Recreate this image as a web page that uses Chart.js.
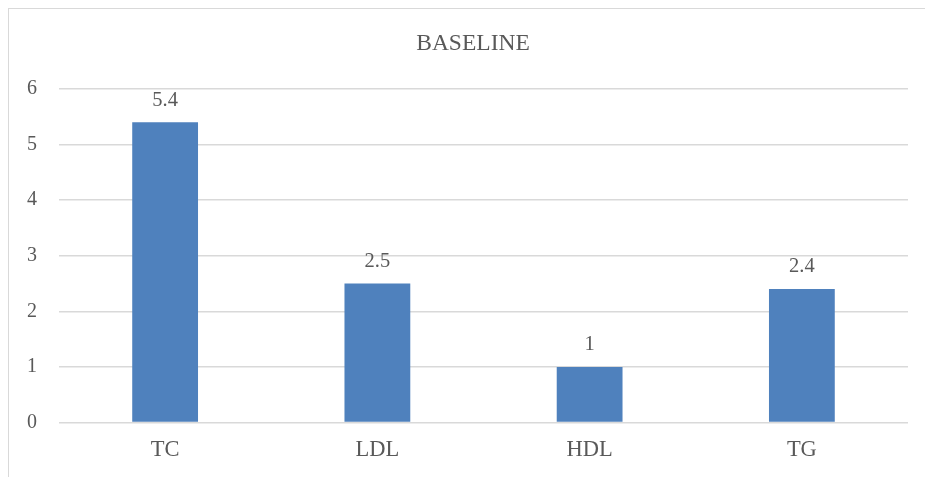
<!DOCTYPE html>
<html>
<head>
<meta charset="utf-8">
<script src="https://cdn.jsdelivr.net/npm/chart.js@4/dist/chart.umd.min.js"></script>
<style>
  html, body { margin: 0; padding: 0; background: #ffffff; overflow: hidden; }
  #frame { position: absolute; left: 8px; top: 8px; width: 1000px; height: 600px; border: 1px solid #d9d9d9; box-sizing: border-box; }
  #wrap { position: absolute; left: 0; top: 0; width: 925px; height: 477px; }
</style>
</head>
<body>
<div id="frame"></div>
<div id="wrap"><canvas id="c" width="925" height="477"></canvas></div>
<script>
const categories = ['TC', 'LDL', 'HDL', 'TG'];
const baselineValues = [5.4, 2.5, 1, 2.4];
const yTicks = [0, 1, 2, 3, 4, 5, 6];
const chartTitle = 'BASELINE';

const FONT = "'Liberation Serif', 'Times New Roman', serif";
const TEXT = '#595959';

// Chart heading, centred over the framed panel
const heading = {
  id: 'heading',
  afterDraw(chart) {
    const ctx = chart.ctx;
    ctx.save();
    ctx.font = '23.5px ' + FONT;
    ctx.fillStyle = TEXT;
    ctx.textAlign = 'center';
    ctx.textBaseline = 'middle';
    ctx.fillText(chartTitle, 473, 44);
    ctx.restore();
  }
};

// Writes each bar's value just above it
const valueLabels = {
  id: 'valueLabels',
  afterDatasetsDraw(chart) {
    const ctx = chart.ctx;
    ctx.save();
    ctx.font = '20.5px ' + FONT;
    ctx.fillStyle = TEXT;
    ctx.textAlign = 'center';
    ctx.textBaseline = 'middle';
    chart.data.datasets.forEach((ds, i) => {
      chart.getDatasetMeta(i).data.forEach((bar, j) => {
        ctx.fillText(String(ds.data[j]), bar.x, bar.y - 22);
      });
    });
    ctx.restore();
  }
};

new Chart(document.getElementById('c'), {
  type: 'bar',
  data: {
    labels: categories,
    datasets: [{
      label: chartTitle,
      data: baselineValues,
      backgroundColor: '#4f81bd',
      borderWidth: 0,
      barPercentage: 0.31,
      categoryPercentage: 1.0
    }]
  },
  options: {
    responsive: false,
    animation: false,
    layout: { padding: { left: 0, right: 17, top: 89, bottom: 0 } },
    plugins: {
      legend: { display: false },
      tooltip: { enabled: false },
      title: { display: false }
    },
    scales: {
      x: {
        grid: { display: false, drawTicks: false },
        border: { display: false },
        ticks: { color: TEXT, font: { family: FONT, size: 22.5 }, padding: 14 },
        afterFit(scale) { scale.height = 54.5; }
      },
      y: {
        min: 0,
        max: 6,
        afterBuildTicks(scale) { scale.ticks = yTicks.map(v => ({ value: v })); },
        grid: { color: '#d9d9d9', lineWidth: 1.5, drawTicks: false },
        border: { display: false },
        ticks: { color: TEXT, font: { family: FONT, size: 20 }, padding: 22 },
        afterFit(scale) { scale.width = 59; }
      }
    }
  },
  plugins: [valueLabels, heading]
});
</script>
</body>
</html>
